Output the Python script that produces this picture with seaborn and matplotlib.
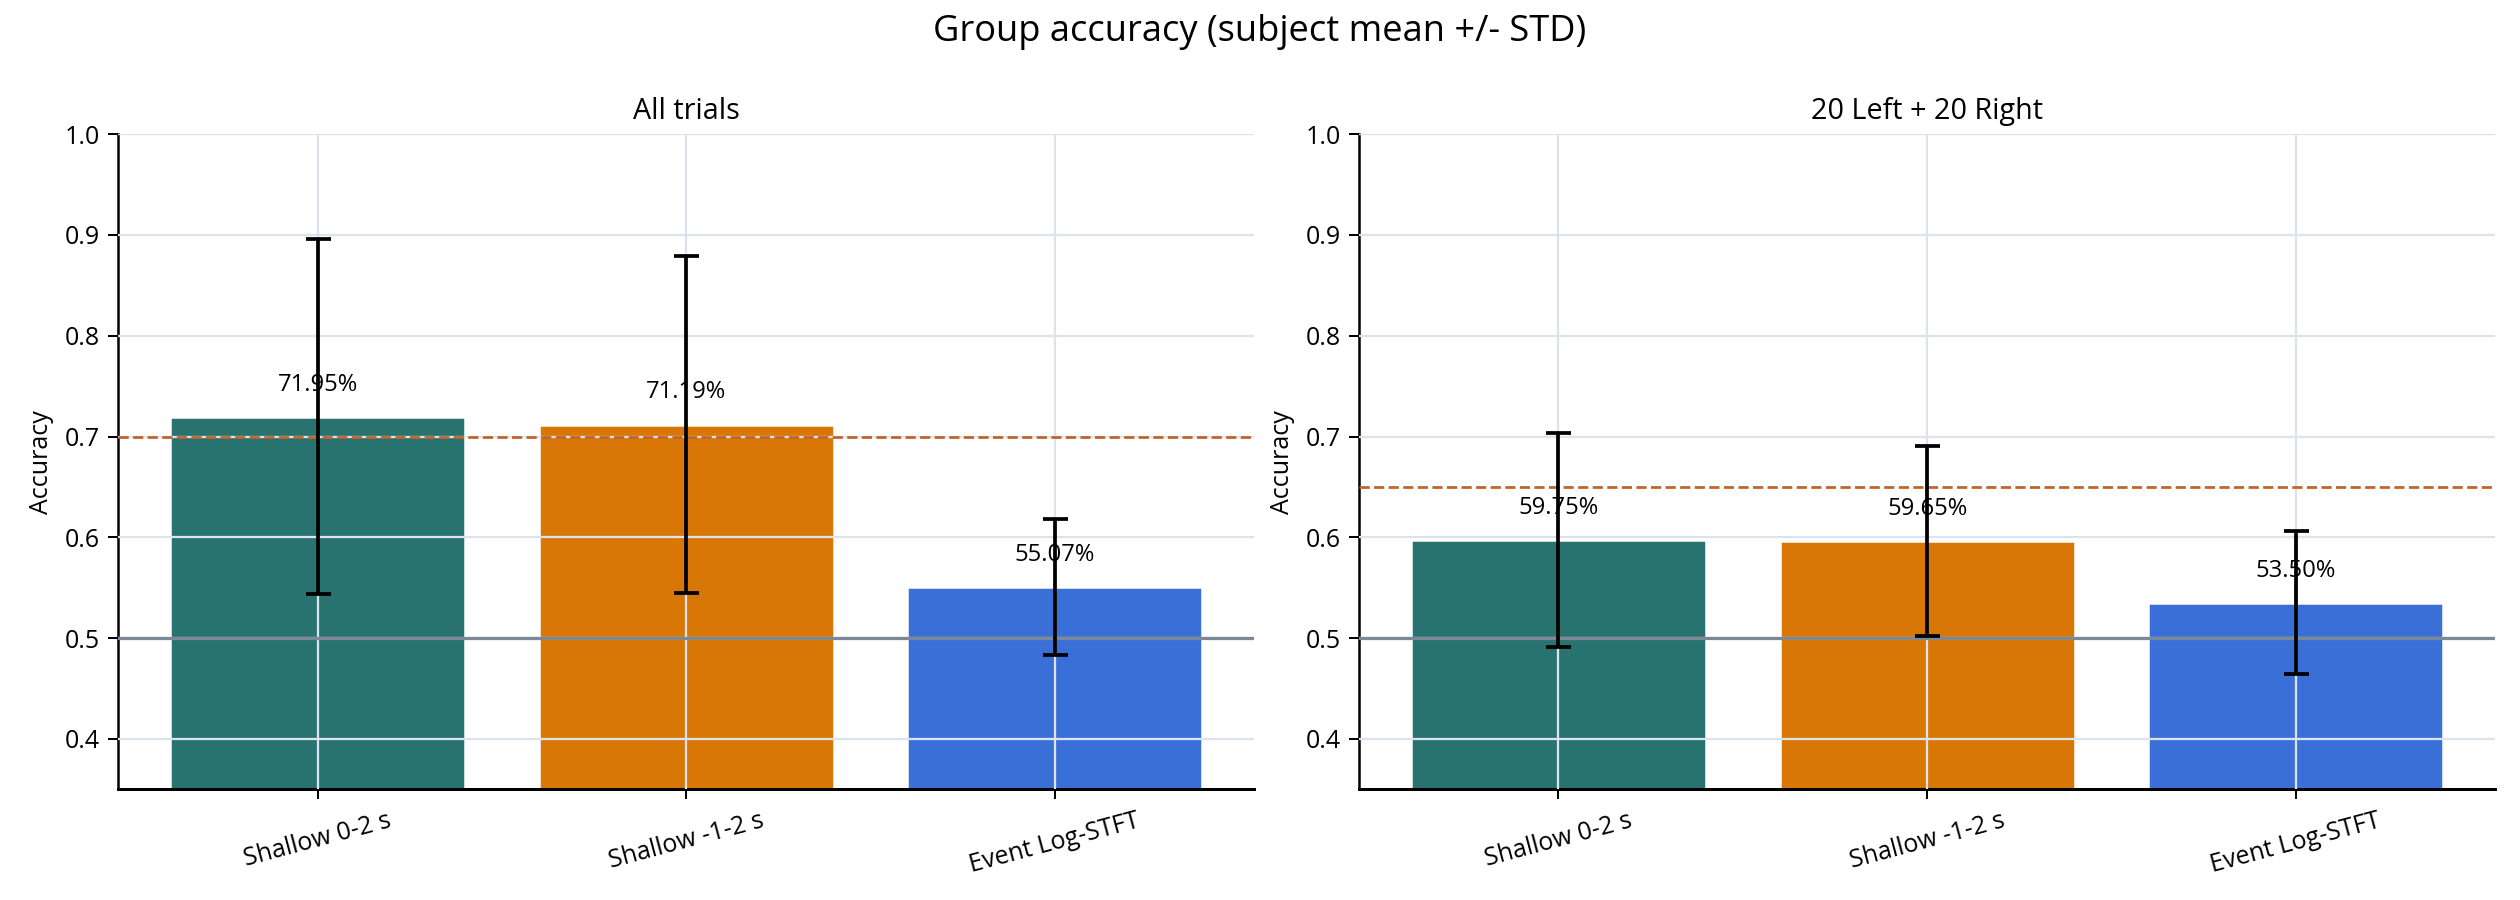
import numpy as np
import pandas as pd
import matplotlib
matplotlib.use("Agg")
import matplotlib.pyplot as plt
import seaborn as sns

# dati
metodi = ["Shallow 0-2 s", "Shallow -1-2 s", "Event Log-STFT"]
colori = ["#287370", "#d97706", "#3b6fd8"]

acc_all = [0.7195, 0.7119, 0.5507]
std_all = [0.176, 0.167, 0.0675]

acc_bal = [0.5975, 0.5965, 0.5350]
std_bal = [0.106, 0.094, 0.071]

titoli = ["All trials", "20 Left + 20 Right"]
soglie = [0.70, 0.65]

sns.set_theme(style="whitegrid", rc={
    "grid.color": "#dde3ec",
    "grid.linewidth": 0.9,
    "axes.edgecolor": "black",
    "axes.linewidth": 1.0,
    "xtick.bottom": True,
    "ytick.left": True,
    "xtick.color": "black",
    "ytick.color": "black",
    "text.color": "black",
    "axes.labelcolor": "black",
})
plt.rcParams["font.family"] = ["Open Sans", "DejaVu Sans"]

fig, axes = plt.subplots(1, 2, figsize=(14, 5), dpi=180)

serie = [(acc_all, std_all), (acc_bal, std_bal)]
for ax, (acc, std), titolo, soglia in zip(axes, serie, titoli, soglie):
    df = pd.DataFrame({"metodo": metodi, "acc": acc, "std": std})
    sns.barplot(data=df, x="metodo", y="acc", hue="metodo", palette=colori,
                errorbar=None, legend=False, width=0.8, saturation=1, ax=ax)
    ax.set_axisbelow(False)
    ax.grid(True, axis="both", color="#dde3ec", linewidth=0.9)
    ax.errorbar(np.arange(len(metodi)), df["acc"], yerr=df["std"], fmt="none",
                ecolor="black", elinewidth=1.5, capsize=5, capthick=1.5, zorder=4)
    ax.axhline(0.5, color="#7d8896", linewidth=1.3, zorder=3)
    ax.axhline(soglia, color="#c2622c", linestyle="--", linewidth=1.1, zorder=3)
    for i, v in enumerate(acc):
        ax.text(i, v + 0.02, f"{v * 100:.2f}%", ha="center", va="bottom", fontsize=9.5, zorder=5)
    ax.set_ylim(0.35, 1.0)
    ax.set_yticks([0.4, 0.5, 0.6, 0.7, 0.8, 0.9, 1.0])
    ax.set_title(titolo, fontsize=11.5)
    ax.set_xlabel("")
    ax.set_ylabel("Accuracy", fontsize=10)
    ax.tick_params(axis="x", rotation=15, labelsize=10, length=4, width=0.8)
    ax.tick_params(axis="y", labelsize=10, length=4, width=0.8)
    sns.despine(ax=ax)
    ax.spines["bottom"].set_linewidth(1.2)

fig.suptitle("Group accuracy (subject mean +/- STD)", fontsize=14.5, y=0.985)
fig.subplots_adjust(left=0.047, right=0.99, top=0.851, bottom=0.123, wspace=0.093)
fig.savefig("out.png", dpi=180)
